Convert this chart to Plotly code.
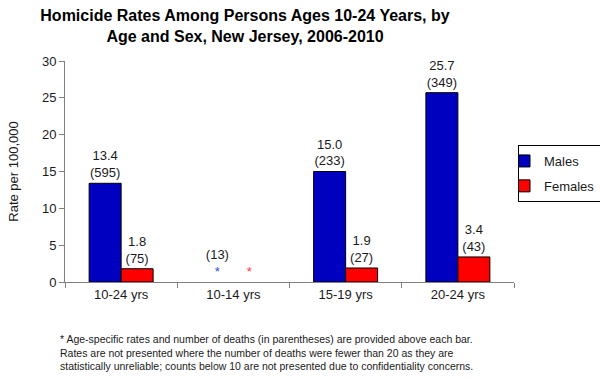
import plotly.graph_objects as go

categories = ["10-24 yrs", "10-14 yrs", "15-19 yrs", "20-24 yrs"]
male_rates = [13.4, 0, 15.0, 25.7]
female_rates = [1.8, 0, 1.9, 3.4]
male_labels = ["13.4<br>(595)", "(13)<br><span style='color:#2E4BD8'>*</span>", "15.0<br>(233)", "25.7<br>(349)"]
female_labels = ["1.8<br>(75)", "<span style='color:#FF3333'>*</span>", "1.9<br>(27)", "3.4<br>(43)"]

FONT = "Liberation Sans, Arial, sans-serif"
TXT = "#1a1a1a"

L, R, T, B = 65, 514, 61, 282
PW, PH = R - L, B - T

def outline(vals):
    return [1 if v > 0 else 0 for v in vals]

fig = go.Figure()
fig.add_trace(go.Bar(
    name="Males", x=categories, y=male_rates, text=male_labels, legendgroup="m",
    textposition="outside", texttemplate="%{text}", constraintext="none",
    textfont=dict(family=FONT, size=13, color=TXT),
    marker=dict(color="#0000C0", line=dict(color="black", width=outline(male_rates))),
    cliponaxis=False,
))
fig.add_trace(go.Bar(
    name="Females", x=categories, y=female_rates, text=female_labels, legendgroup="f",
    textposition="outside", texttemplate="%{text}", constraintext="none",
    textfont=dict(family=FONT, size=13, color=TXT),
    marker=dict(color="#FF0000", line=dict(color="black", width=outline(female_rates))),
    cliponaxis=False,
))

fig.update_layout(
    width=600, height=380,
    margin=dict(l=L, r=600 - R, t=T, b=380 - B, autoexpand=False),
    paper_bgcolor="white", plot_bgcolor="white",
    barmode="group", bargap=0.43, bargroupgap=0,
    font=dict(family=FONT, size=13, color=TXT),
    title=dict(
        text="Homicide Rates Among Persons Ages 10-24 Years, by<br>Age and Sex, New Jersey, 2006-2010",
        x=245/600, xanchor="center", xref="container",
        y=1 - 21/380, yanchor="top", yref="container",
        font=dict(family=FONT, size=16, color="black", weight="bold"),
    ),
    showlegend=True,
    legend=dict(
        x=(518 - L) / PW, xanchor="left", y=(B - 173.5) / PH, yanchor="middle",
        bordercolor="black", borderwidth=1, bgcolor="white",
        font=dict(family=FONT, size=13, color=TXT),
        traceorder="grouped", itemwidth=30, tracegroupgap=5, indentation=-15,
    ),
)

fig.update_xaxes(
    showline=True, linecolor="#808080", linewidth=1,
    ticks="outside", tickson="boundaries", ticklen=5, tickcolor="#808080",
    showgrid=False, tickfont=dict(family=FONT, size=13, color=TXT),
)
fig.update_yaxes(
    range=[0, 30], dtick=5, showline=True, linecolor="#808080", linewidth=1,
    ticks="outside", ticklen=5, tickcolor="#808080", showgrid=False, zeroline=False,
    tickfont=dict(family=FONT, size=13, color=TXT),
    title=dict(text="Rate per 100,000", font=dict(family=FONT, size=13, color=TXT), standoff=20),
)

fig.add_annotation(
    xref="paper", yref="paper", x=(58 - L) / PW, y=(B - 331) / PH,
    xanchor="left", yanchor="top", align="left", showarrow=False,
    text=("* Age-specific rates and number of deaths (in parentheses) are provided above each bar.<br>"
          "Rates are not presented where the number of deaths were fewer than 20 as they are<br>"
          "statistically unreliable; counts below 10 are not presented due to confidentiality concerns."),
    font=dict(family=FONT, size=10.5, color=TXT),
)

fig.write_html("out.html", config={"displayModeBar": False},
               post_script="document.body.style.margin='0';")
